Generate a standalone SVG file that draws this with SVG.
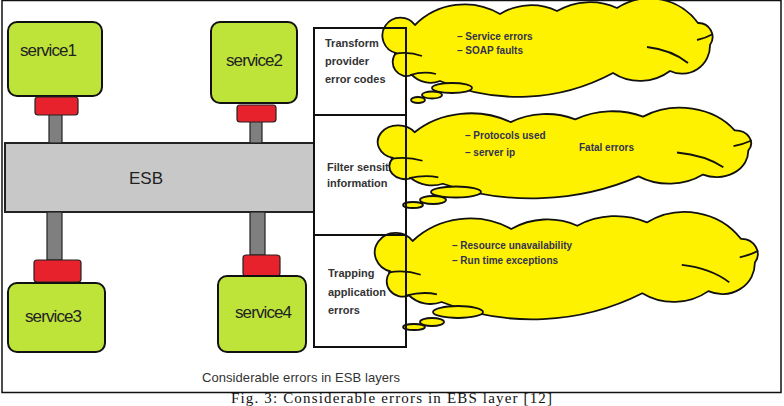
<svg xmlns="http://www.w3.org/2000/svg" width="784" height="406" viewBox="0 0 784 406">
<style>
.svc{fill:#BEE43A;stroke:#111;stroke-width:2}
.plug{fill:#E8222C;stroke:#222;stroke-width:1.2}
.stem{fill:#7f7f7f;stroke:#222;stroke-width:1.2}
.svt{font-family:"Liberation Sans",Arial,sans-serif;font-size:17px;fill:#222}
.lay{fill:#fff;stroke:none}
.layb{fill:none;stroke:#111;stroke-width:2}
.lt{font-family:"Liberation Sans",Arial,sans-serif;font-size:11px;font-weight:bold;fill:#333}
.cloud{fill:#FFF200;stroke:#111;stroke-width:1.8;stroke-linejoin:round}
.inner{fill:none;stroke:#111;stroke-width:1.8}
.ct{font-family:"Liberation Sans",Arial,sans-serif;font-size:10px;font-weight:bold;fill:#333350}
</style>
<defs>
<g id="cloudShape">
<path class="cloud" vector-effect="non-scaling-stroke" d="M16 50 A18 18 0 1 1 35 22 A70 70 0 0 1 120 11 A60 60 0 0 1 177 8 A66 66 0 0 1 237 5 A60 60 0 0 1 318 20 A14 14 0 0 1 330 42 A28 28 0 0 1 290 68 A50 50 0 0 1 233 70 A200 200 0 0 1 60 78 A26 26 0 0 1 32 72 A14 14 0 0 1 16 50 Z"/>
<path class="inner" vector-effect="non-scaling-stroke" d="M14 51 Q28 48 42 53 M30 72 Q44 68 56 71 M267 44 Q292 47 308 60 M317 37 Q326 35 333 31"/>
</g>
</defs>
<rect x="2" y="0.5" width="779" height="392" fill="#fff" stroke="#111" stroke-width="1.5"/>
<g id="esb">
<rect x="5" y="143" width="309" height="69" fill="#C8C8C8" stroke="#222" stroke-width="2"/>
<text class="svt" x="146" y="184" text-anchor="middle">ESB</text>
</g>
<g id="connectors">
<rect class="stem" x="49" y="114" width="13" height="29"/>
<rect class="stem" x="250" y="121" width="12" height="22"/>
<rect class="stem" x="47" y="212" width="15" height="48"/>
<rect class="stem" x="250" y="212" width="15" height="43"/>
</g>
<g id="service1">
<rect class="svc" x="8" y="22" width="94" height="74" rx="9"/>
<rect class="plug" x="35" y="97" width="43" height="18" rx="3"/>
<text class="svt" x="20" y="56" textLength="57">service1</text>
</g>
<g id="service2">
<rect class="svc" x="211" y="22" width="86" height="81" rx="9"/>
<rect class="plug" x="237" y="105" width="39" height="17" rx="3"/>
<text class="svt" x="226" y="66" textLength="57">service2</text>
</g>
<g id="service3">
<rect class="plug" x="34" y="260" width="47" height="22" rx="3"/>
<rect class="svc" x="8" y="283" width="97" height="69" rx="9"/>
<text class="svt" x="25" y="322" textLength="57">service3</text>
</g>
<g id="service4">
<rect class="plug" x="243" y="255" width="37" height="21" rx="3"/>
<rect class="svc" x="218" y="276" width="88" height="76" rx="9"/>
<text class="svt" x="235" y="318" textLength="57">service4</text>
</g>
<g id="layer1">
<rect class="lay" x="314" y="28" width="92" height="87"/>
<text class="lt" x="325" y="47">Transform</text>
<text class="lt" x="325" y="65">provider</text>
<text class="lt" x="325" y="83">error codes</text>
</g>
<g id="layer2">
<rect class="lay" x="314" y="115" width="92" height="120"/>
<text class="lt" x="327" y="171">Filter sensitive</text>
<text class="lt" x="327" y="187">information</text>
</g>
<g id="layer3">
<rect class="lay" x="314" y="235" width="92" height="112"/>
<text class="lt" x="328" y="277">Trapping</text>
<text class="lt" x="328" y="296">application</text>
<text class="lt" x="328" y="314">errors</text>
</g>
<g id="cloud1">
<use href="#cloudShape" transform="translate(380,3)"/>
<ellipse class="cloud" cx="452" cy="88" rx="20" ry="5"/>
<ellipse class="cloud" cx="432" cy="95" rx="10" ry="3.5"/>
<ellipse class="cloud" cx="418" cy="100" rx="7" ry="3"/>
<text class="ct" x="457" y="40">– Service errors</text>
<text class="ct" x="457" y="54">– SOAP faults</text>
</g>
<g id="cloud2">
<use href="#cloudShape" transform="translate(375,112) scale(1.131,0.92)"/>
<ellipse class="cloud" cx="456" cy="192" rx="25" ry="5.5"/>
<ellipse class="cloud" cx="433" cy="200" rx="13" ry="4"/>
<ellipse class="cloud" cx="413" cy="205" rx="10" ry="3"/>
<text class="ct" x="465" y="139">– Protocols used</text>
<text class="ct" x="465" y="156">– server ip</text>
<text class="ct" x="579" y="151">Fatal errors</text>
</g>
<g id="cloud3">
<use href="#cloudShape" transform="translate(372,217) scale(1.16,1.09)"/>
<ellipse class="cloud" cx="458" cy="312" rx="25" ry="6"/>
<ellipse class="cloud" cx="432" cy="322" rx="12" ry="4"/>
<ellipse class="cloud" cx="414" cy="327" rx="11" ry="3"/>
<text class="ct" x="452" y="249">– Resource unavailability</text>
<text class="ct" x="452" y="264">– Run time exceptions</text>
</g>
<g id="layerBorders">
<rect class="layb" x="314" y="28" width="92" height="87"/>
<rect class="layb" x="314" y="115" width="92" height="120"/>
<rect class="layb" x="314" y="235" width="92" height="112"/>
</g>
<text x="202" y="382" font-family="Liberation Sans,Arial,sans-serif" font-size="13" fill="#333" textLength="198">Considerable errors in ESB layers</text>
<text x="231" y="403" font-family="Liberation Serif,Times New Roman,serif" font-size="15" fill="#111" textLength="321">Fig. 3: Considerable errors in EBS layer [12]</text>
</svg>
